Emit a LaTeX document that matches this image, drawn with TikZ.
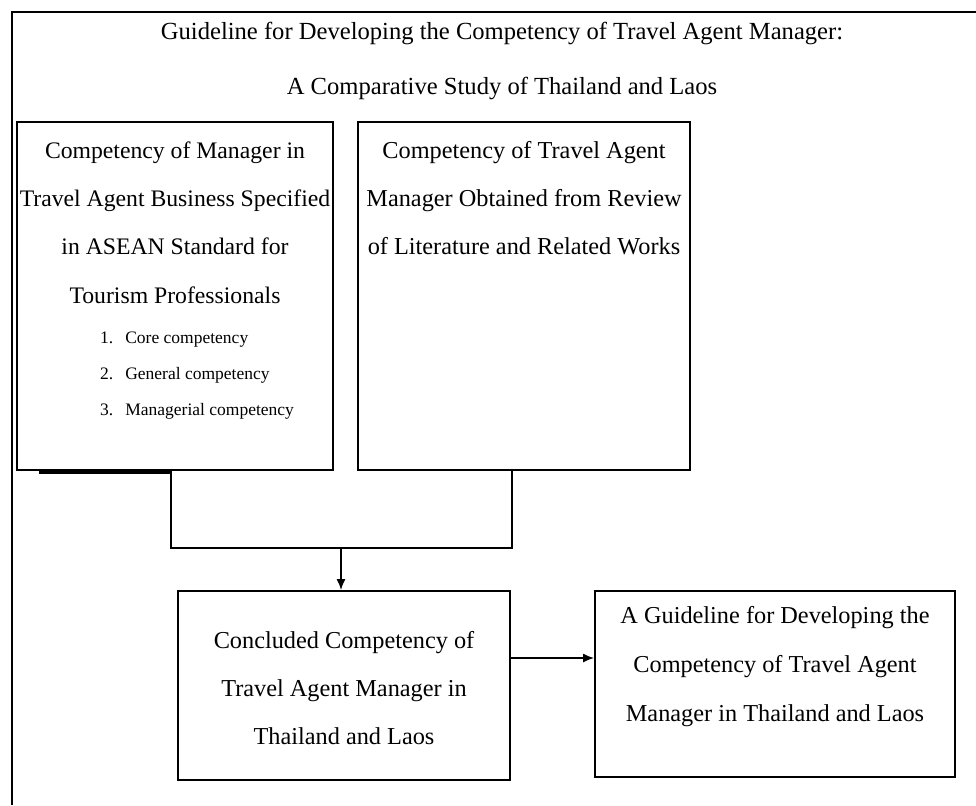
\documentclass[tikz,border=0pt]{standalone}
\usepackage{fontspec}
\setmainfont{Liberation Serif}
\usetikzlibrary{arrows.meta}
\begin{document}
\begin{tikzpicture}[x=1pt,y=-1pt,
  box/.style={draw=black, line width=1.8pt, inner sep=0pt},
  bigtext/.style={align=center, inner sep=0pt, font=\fontsize{24.3}{48.3}\selectfont},
  listtext/.style={align=left, inner sep=0pt, font=\fontsize{17.5}{36}\selectfont},
  conn/.style={line width=1.6pt},
  arr/.style={line width=1.6pt, -{Latex[length=11pt,width=9pt]}}]
\useasboundingbox (0,0) rectangle (976,805);
\fill[white] (0,0) rectangle (976,805);
% outer frame (cut by the page edge)
\coordinate (fTR) at (976,12);
\coordinate (fTL) at (12,12);
\coordinate (fBL) at (12,805);
\draw[line width=1.8pt] (fTR) -- (fTL) -- (fBL);
% title
\node[bigtext, font=\fontsize{24.6}{55}\selectfont] (title) at (502,60.5)
  {Guideline for Developing the Competency of Travel Agent Manager:\\
   A Comparative Study of Thailand and Laos};
% boxes
\node[box, minimum width=316pt, minimum height=348pt] (b1) at (175,296) {};
\node[box, minimum width=332pt, minimum height=348pt] (b2) at (524,296) {};
\node[box, minimum width=332pt, minimum height=189pt] (b3) at (344,685.5) {};
\node[box, minimum width=360pt, minimum height=186pt] (b4) at (775,684) {};
% shadow stroke under box 1
\coordinate (shA) at (39,472.5);
\coordinate (shB) at (171,472.5);
\draw[line width=3pt] (shA) -- (shB);
% texts
\node[bigtext, font=\fontsize{23.7}{48.3}\selectfont] (t1) at (175,222.5)
  {Competency of Manager in\\Travel Agent Business Specified\\in ASEAN Standard for\\Tourism Professionals};
\node[listtext, anchor=west] (l1) at (100,376)
  {1.\hspace{12pt}Core competency\\2.\hspace{12pt}General competency\\3.\hspace{12pt}Managerial competency};
\node[bigtext] (t2) at (524,198)
  {Competency of Travel Agent\\Manager Obtained from Review\\of Literature and Related Works};
\node[bigtext] (t3) at (344,688)
  {Concluded Competency of\\Travel Agent Manager in\\Thailand and Laos};
\node[bigtext, font=\fontsize{24.3}{49}\selectfont] (t4) at (775,667)
  {A Guideline for Developing the\\Competency of Travel Agent\\Manager in Thailand and Laos};
% connectors
\coordinate (jL) at (171,548);
\coordinate (jR) at (512,548);
\coordinate (jM) at (341,548);
\draw[conn] (jL |- b1.south) -- (jL) -- (jR) -- (jR |- b2.south);
\draw[arr] (jM) -- (jM |- b3.north);
\coordinate (aS) at (b3.east |- 0,658);
\draw[arr] (aS) -- (aS -| b4.west);
\end{tikzpicture}
\end{document}
